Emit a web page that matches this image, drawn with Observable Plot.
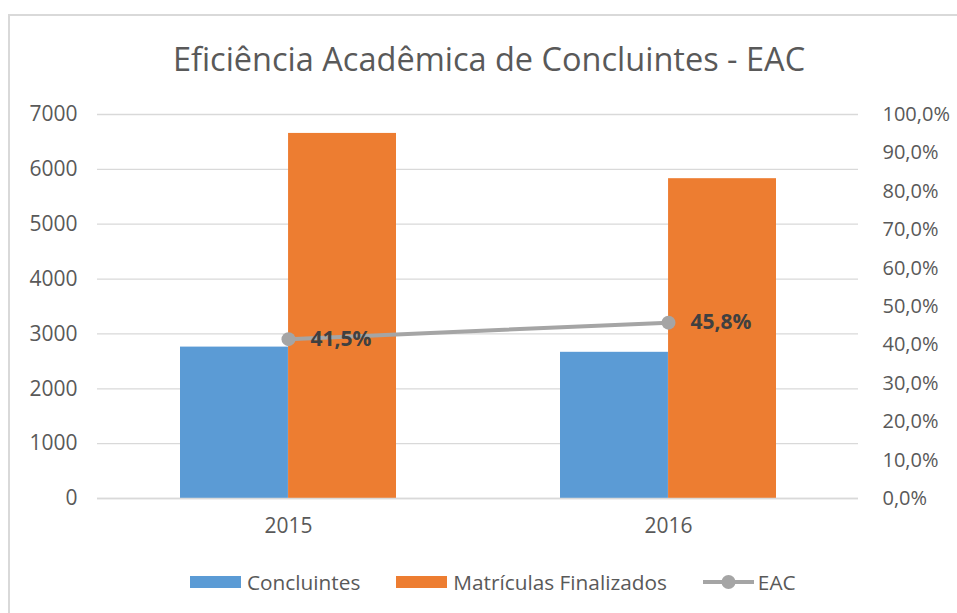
<!DOCTYPE html>
<html>
<head>
<meta charset="utf-8">
<script src="https://cdn.jsdelivr.net/npm/d3@7"></script>
<script src="https://cdn.jsdelivr.net/npm/@observablehq/plot@0.6"></script>
<style>
  html, body { margin: 0; padding: 0; background: #fff; }
  #wrap { position: relative; width: 957px; height: 613px; overflow: hidden; font-family: "Open Sans", sans-serif; color: #595959; }
  #frame { position: absolute; left: 8px; top: 14px; width: 960px; height: 610px; border-top: 2px solid #D9D9D9; border-left: 2px solid #D9D9D9; z-index: 5; pointer-events: none; }
  #title { position: absolute; left: 0; width: 978px; top: 36px; text-align: center; font-size: 32.5px; color: #595959; white-space: nowrap; }
  #chart { position: absolute; left: 0; top: 90px; }
  #legend { position: absolute; left: 190px; top: 568px; display: flex; align-items: center; font-size: 20.8px; color: #595959; white-space: nowrap; }
  .item { display: flex; align-items: center; margin-right: 36px; }
  .sw { width: 51px; height: 12px; margin-right: 6px; }
</style>
</head>
<body>
<div id="wrap">
  <div id="frame"></div>
  <div id="title">Eficiência Acadêmica de Concluintes - EAC</div>
  <div id="chart"></div>
  <div id="legend"></div>
</div>
<script>
// ---- data ----
const years = ["2015", "2016"];
const concluintes = [2760, 2665];
const matriculas = [6655, 5830];
const eac = [0.415, 0.458];
const eacLabels = ["41,5%", "45,8%"];
const leftTicks = [0, 1000, 2000, 3000, 4000, 5000, 6000, 7000];
const rightTicks = [0, 0.1, 0.2, 0.3, 0.4, 0.5, 0.6, 0.7, 0.8, 0.9, 1.0];
const seriesNames = ["Concluintes", "Matrículas Finalizados", "EAC"];
const colors = ["#5B9BD5", "#ED7D31", "#A5A5A5"];

const yMax = 7000; // left axis max == 100% on right axis

const rows = years.map((y, i) => ({
  year: y, concluintes: concluintes[i], matriculas: matriculas[i], eac: eac[i], label: eacLabels[i]
}));

const W = 957, H = 458;
const mL = 97, mR = 99, mT = 24, mB = 50;
const padInner = 0.432;
const step = (W - mL - mR) / (years.length - padInner + 2 * (padInner / 2));
const half = step * (1 - padInner) / 2;

const fmtPct = p => (p * 100).toFixed(1).replace(".", ",") + "%";

const chart = Plot.plot({
  width: W,
  height: H,
  marginLeft: mL,
  marginRight: mR,
  marginTop: mT,
  marginBottom: mB,
  style: { fontFamily: "'Open Sans', sans-serif", fontSize: "21px", color: "#595959", background: "transparent" },
  x: { domain: years, paddingInner: padInner, paddingOuter: padInner / 2, label: null },
  y: { domain: [0, yMax], label: null },
  marks: [
    Plot.gridY(leftTicks, { stroke: "#D9D9D9", strokeOpacity: 1, strokeWidth: 1.3 }),
    Plot.barY(rows, { x: "year", y: "concluintes", fill: colors[0], insetRight: half, insetLeft: 0 }),
    Plot.barY(rows, { x: "year", y: "matriculas", fill: colors[1], insetLeft: half, insetRight: 0 }),
    Plot.ruleY([0], { stroke: "#D9D9D9", strokeWidth: 1.3 }),
    Plot.line(rows, { x: "year", y: d => d.eac * yMax, stroke: colors[2], strokeWidth: 4 }),
    Plot.dot(rows, { x: "year", y: d => d.eac * yMax, r: 7, fill: colors[2], stroke: null }),
    Plot.text(rows, { x: "year", y: d => d.eac * yMax, text: "label", dx: 22, textAnchor: "start", fontWeight: "bold", fontSize: 21, fill: "#404040" }),
    Plot.axisY({ anchor: "left", ticks: leftTicks, tickSize: 0, tickPadding: 20, tickFormat: d => String(d), fill: "#595959" }),
    Plot.axisY({ anchor: "right", ticks: rightTicks.map(p => p * yMax), tickSize: 0, tickPadding: 24, tickFormat: v => fmtPct(v / yMax), fill: "#595959", fontSize: 20 }),
    Plot.axisX({ tickSize: 0, tickPadding: 20, fill: "#595959" })
  ]
});
document.getElementById("chart").appendChild(chart);

// legend
const legend = document.getElementById("legend");
seriesNames.forEach((name, i) => {
  const item = document.createElement("div");
  item.className = "item";
  if (i < 2) {
    const sw = document.createElement("div");
    sw.className = "sw";
    sw.style.background = colors[i];
    item.appendChild(sw);
  } else {
    const ns = "http://www.w3.org/2000/svg";
    const svg = document.createElementNS(ns, "svg");
    svg.setAttribute("width", 51); svg.setAttribute("height", 16);
    svg.style.marginRight = "4px";
    const ln = document.createElementNS(ns, "line");
    ln.setAttribute("x1", 0); ln.setAttribute("x2", 51); ln.setAttribute("y1", 8); ln.setAttribute("y2", 8);
    ln.setAttribute("stroke", colors[2]); ln.setAttribute("stroke-width", 4);
    const c = document.createElementNS(ns, "circle");
    c.setAttribute("cx", 25.5); c.setAttribute("cy", 8); c.setAttribute("r", 7); c.setAttribute("fill", colors[2]);
    svg.appendChild(ln); svg.appendChild(c);
    item.appendChild(svg);
  }
  const t = document.createElement("span");
  t.textContent = name;
  item.appendChild(t);
  legend.appendChild(item);
});
</script>
</body>
</html>
